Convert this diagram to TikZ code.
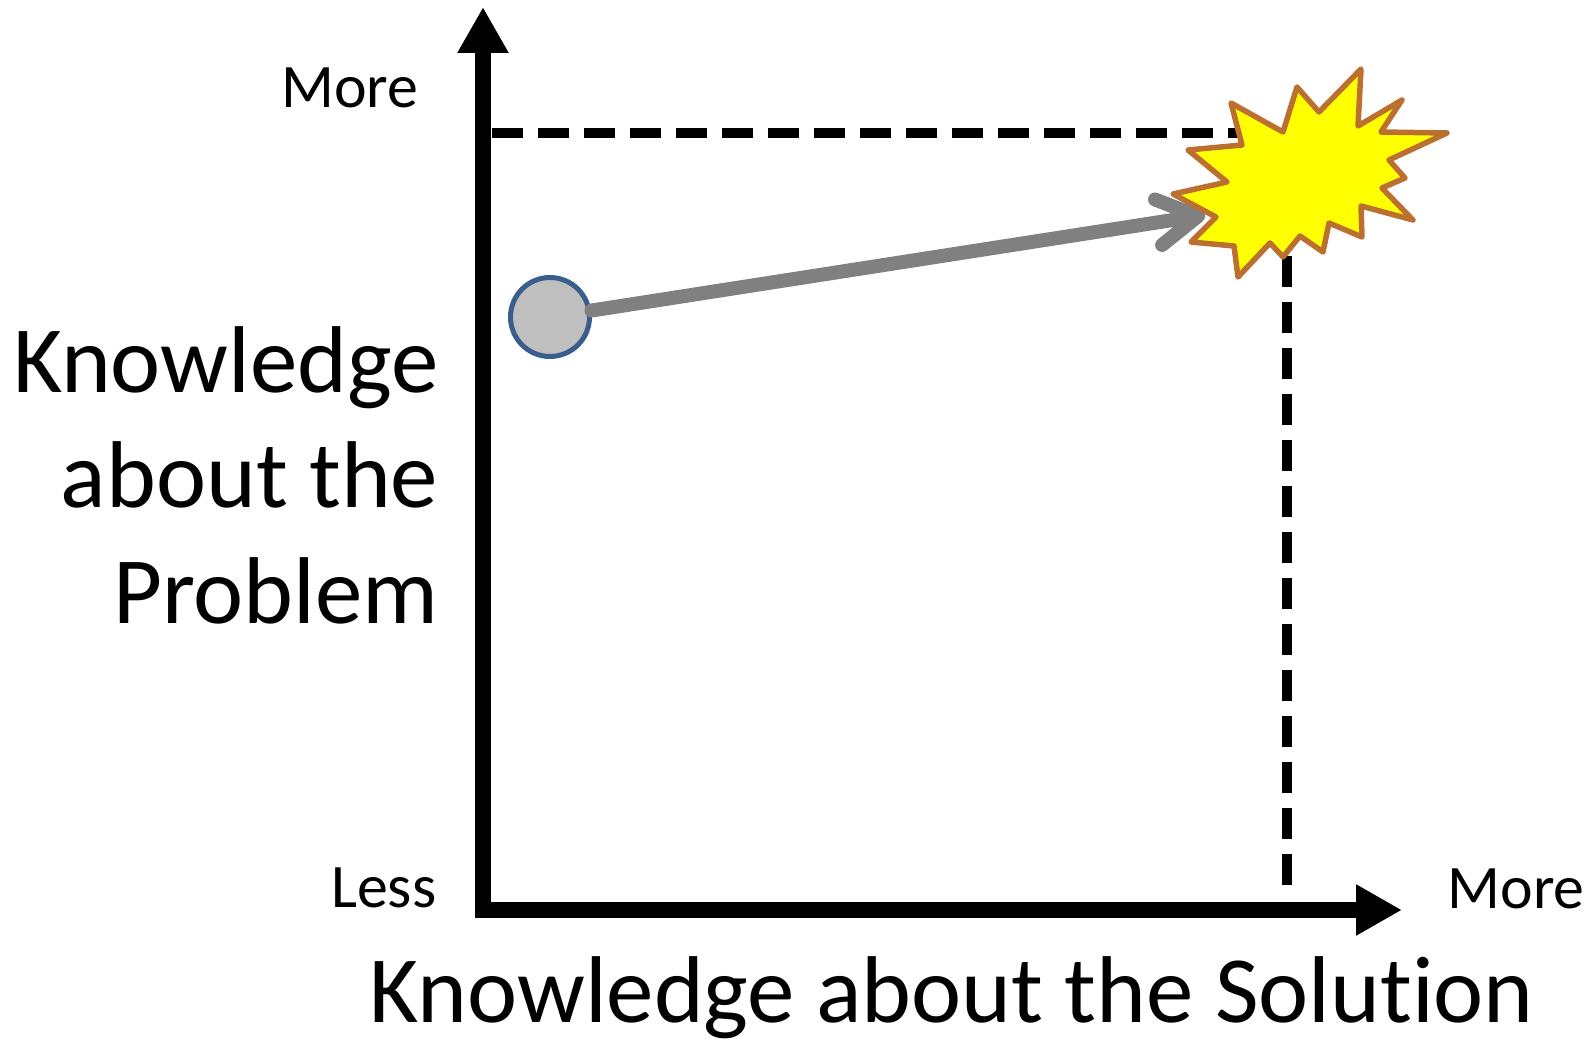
\documentclass[tikz,border=0pt]{standalone}
\usepackage{fontspec}
\setmainfont{Carlito}[Ligatures=NoCommon]
\usetikzlibrary{arrows.meta}
\definecolor{burstfill}{RGB}{255,255,0}
\definecolor{burstedge}{RGB}{187,112,48}
\definecolor{dotedge}{RGB}{58,94,140}
\begin{document}
\begin{tikzpicture}[x=1cm,y=1cm,
  axis/.style={line width=1.6mm,line join=miter,
    {Triangle[length=4.6mm,width=4.8mm]}-{Triangle[length=4.6mm,width=4.8mm]}},
  guide/.style={line width=1.05mm,dash pattern=on 3.1mm off 1.5mm},
  big/.style={inner sep=0pt,font=\fontsize{27}{32.8}\selectfont},
  small/.style={inner sep=0pt,font=\fontsize{17.6}{21}\selectfont}]
  \useasboundingbox (0,0) rectangle (15.95,10.41);
  % Guides from both axes up to the goal.
  \coordinate (ymark) at (4.92,9.08);
  \coordinate (xmark) at (12.87,1.56);
  \coordinate (peak) at (12.87,9.08);
  \draw[guide] (ymark) -- (peak);
  \draw[guide] (xmark) -- (peak);
  % Axes meet in the lower left corner.
  \coordinate (origin) at (4.83,1.31);
  \coordinate (ytip) at (4.83,10.34);
  \coordinate (xtip) at (14.02,1.31);
  \draw[axis] (ytip) -- (origin) -- (xtip);
  % Starting point and the move towards the goal.
  \node[circle,draw=dotedge,fill=black!25,line width=0.5mm,
    minimum size=7.9mm,inner sep=0pt] (start) at (5.50,7.24) {};
  \coordinate (hit) at (12.05,8.26);
  \draw[gray,line width=1.4mm,line cap=round,
    -{Straight Barb[round,length=4mm,width=4.6mm]}] (start) -- (hit);
  % Explosion marks the goal.
  \draw[burstedge,fill=burstfill,line width=0.55mm,line join=round]
    (11.73,8.47) -- (12.27,8.59) -- (11.88,8.91) -- (12.42,8.96)
    -- (12.31,9.38) -- (12.83,9.09) -- (12.97,9.54) -- (13.19,9.29)
    -- (13.61,9.72) -- (13.58,9.15) -- (14.02,9.41) -- (13.81,9.09)
    -- (14.47,9.08) -- (13.89,8.81) -- (14.05,8.63) -- (13.82,8.53)
    -- (14.13,8.21) -- (13.61,8.35) -- (13.62,8.04) -- (13.29,8.18)
    -- (13.23,7.89) -- (13.00,8.05) -- (12.83,7.84) -- (12.70,7.98)
    -- (12.38,7.64) -- (12.34,7.95) -- (11.91,7.99) -- (12.16,8.24)
    -- cycle;
  % Axis labels.
  \node[small,anchor=base east] (ymore) at (4.19,9.33) {More};
  \node[small,anchor=base east] (less) at (4.37,1.34) {Less};
  \node[small,anchor=base west] (xmore) at (14.47,1.33) {More};
  \node[big,align=right,anchor=base east] (ylabel) at (4.39,4.18)
    {Knowledge\\about the\\Problem};
  \node[big,anchor=base] (xlabel) at (9.52,0.19)
    {Knowledge about the Solution};
\end{tikzpicture}
\end{document}
